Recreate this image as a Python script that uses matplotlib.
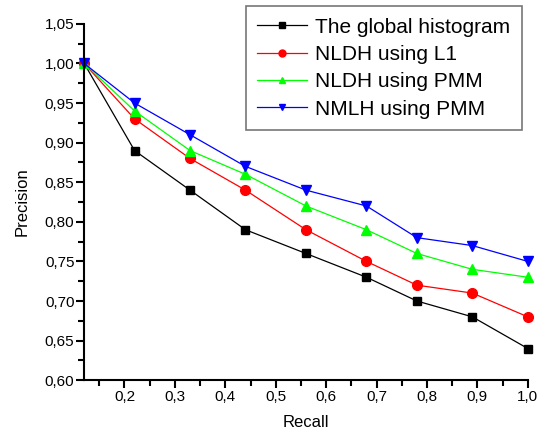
import matplotlib.pyplot as plt
from matplotlib.ticker import FuncFormatter, MultipleLocator

plt.rcParams['font.family'] = ['Liberation Sans', 'DejaVu Sans']

recall = [0.12, 0.22, 0.33, 0.44, 0.56, 0.68, 0.78, 0.89, 1.0]
global_hist = [1.00, 0.89, 0.84, 0.79, 0.76, 0.73, 0.70, 0.68, 0.64]
nldh_l1 = [1.00, 0.93, 0.88, 0.84, 0.79, 0.75, 0.72, 0.71, 0.68]
nldh_pmm = [1.00, 0.94, 0.89, 0.86, 0.82, 0.79, 0.76, 0.74, 0.73]
nmlh_pmm = [1.00, 0.95, 0.91, 0.87, 0.84, 0.82, 0.78, 0.77, 0.75]

fig = plt.figure(figsize=(5.43, 4.34), dpi=100)
ax = fig.add_axes([0.155, 0.124, 0.817, 0.821])

ax.plot(recall, global_hist, color='black', marker='s', ms=6, lw=0.9, label='The global histogram', clip_on=False)
ax.plot(recall, nldh_l1, color='red', marker='o', ms=7, lw=0.9, label='NLDH using L1', clip_on=False)
ax.plot(recall, nldh_pmm, color='#00ff00', marker='^', ms=7, lw=0.9, label='NLDH using PMM', clip_on=False)
ax.plot(recall, nmlh_pmm, color='blue', marker='v', ms=7, lw=0.9, label='NMLH using PMM', clip_on=False)

ax.set_xlim(0.12, 1.0)
ax.set_ylim(0.60, 1.05)
ax.xaxis.set_major_locator(MultipleLocator(0.1))
ax.xaxis.set_minor_locator(MultipleLocator(0.05))
ax.yaxis.set_major_locator(MultipleLocator(0.05))
ax.yaxis.set_minor_locator(MultipleLocator(0.025))
ax.xaxis.set_major_formatter(FuncFormatter(lambda v, p: ('%.1f' % v).replace('.', ',')))
ax.yaxis.set_major_formatter(FuncFormatter(lambda v, p: ('%.2f' % v).replace('.', ',')))

for s in ['top', 'right']:
    ax.spines[s].set_visible(False)
ax.spines['left'].set_linewidth(1.5)
ax.spines['bottom'].set_linewidth(1.5)
ax.tick_params(which='major', direction='out', length=6, width=1.5, labelsize=11, pad=1)
ax.tick_params(which='minor', direction='out', length=4, width=1.5)

ax.set_xlabel('Recall', fontsize=12, labelpad=8)
ax.set_ylabel('Precision', fontsize=12, labelpad=11)

leg = ax.legend(loc='upper right', bbox_to_anchor=(0.987, 1.05), borderaxespad=0,
                fontsize=15, numpoints=1, handlelength=2.4, frameon=True, fancybox=False,
                shadow=False, borderpad=0.55, labelspacing=0.4, handletextpad=0.4)
leg.get_frame().set_edgecolor('#555555')
leg.get_frame().set_linewidth(1.2)
for h in leg.legend_handles:
    h.set_markersize(5)

fig.savefig('out.png', dpi=100)
